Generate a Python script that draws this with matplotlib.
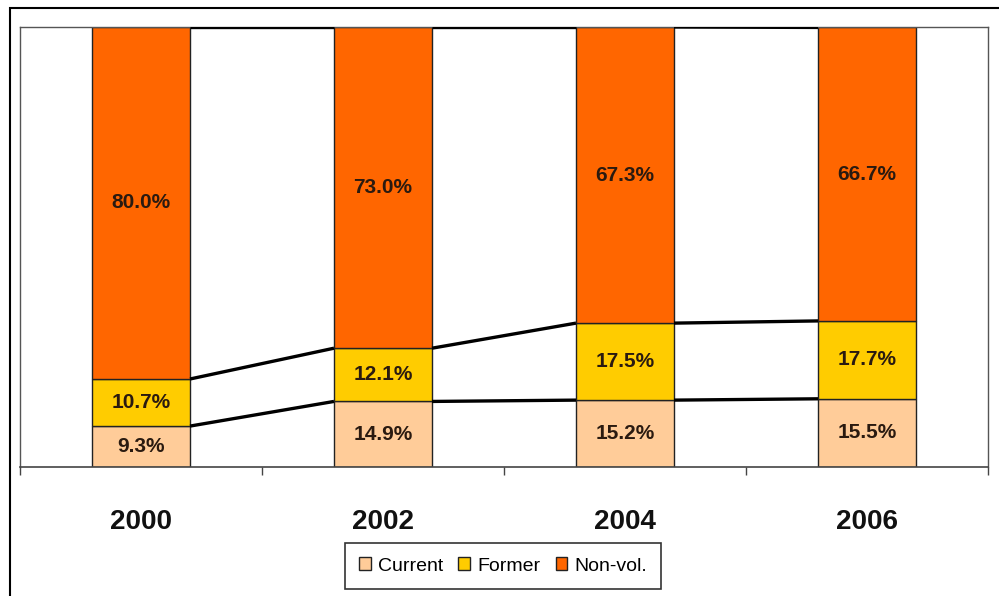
import numpy as np
import matplotlib.pyplot as plt
from matplotlib.patches import Rectangle

years = ['2000', '2002', '2004', '2006']
current = [9.3, 14.9, 15.2, 15.5]
former = [10.7, 12.1, 17.5, 17.7]
nonvol = [80.0, 73.0, 67.3, 66.7]

series = [('Current', current, '#FFCC99'),
          ('Former', former, '#FFCC00'),
          ('Non-vol.', nonvol, '#FF6600')]

plt.rcParams['font.family'] = ['Liberation Sans Narrow', 'Liberation Sans', 'DejaVu Sans']

fig = plt.figure(figsize=(9.99, 5.96), dpi=100)
# outer frame of the picture
fig.patches.append(Rectangle((10 / 999, -0.01), 1.0, 1 - 8 / 596 + 0.01,
                             transform=fig.transFigure, fill=False,
                             edgecolor='black', linewidth=1.5))

ax = fig.add_axes([20 / 999, 1 - 467 / 596, 968 / 999, 440 / 596])
x = np.arange(len(years))
w = 0.405
bottom = np.zeros(len(years))
handles = []
for name, vals, color in series:
    vals = np.array(vals)
    b = ax.bar(x, vals, w, bottom=bottom, color=color, edgecolor='#222222',
               linewidth=1.0, label=name, zorder=2)
    handles.append(b)
    for xi, v, b0 in zip(x, vals, bottom):
        ax.text(xi, b0 + v / 2, f'{v:.1f}%', ha='center', va='center',
                fontsize=15, fontweight='bold', color='#2a1a10', zorder=4)
    bottom = bottom + vals
    # series lines between bars
    for i in range(len(years) - 1):
        ax.plot([x[i] + w / 2, x[i + 1] - w / 2], [bottom[i], bottom[i + 1]],
                color='black', linewidth=2.4, zorder=3, solid_capstyle='butt')

ax.set_xlim(-0.5, len(years) - 0.5)
ax.set_ylim(0, 100)
ax.set_yticks([])
ax.set_xticks(np.arange(len(years) + 1) - 0.5)
ax.set_xticklabels([])
ax.tick_params(axis='x', direction='out', length=6, width=1, color='#444444')
for s in ['left', 'top', 'right']:
    ax.spines[s].set_color('#555555')
    ax.spines[s].set_linewidth(1.0)
ax.spines['bottom'].set_color('#444444')
ax.spines['bottom'].set_linewidth(1.2)

for xi, yr in zip(x, years):
    ax.text(xi, -12.5, yr, ha='center', va='center', fontsize=20,
            fontweight='bold', color='#111111', clip_on=False)

leg = fig.legend(handles=handles, loc='center', bbox_to_anchor=(503 / 999, 1 - 566 / 596),
                 ncol=3, frameon=True, fancybox=False, fontsize=14,
                 handlelength=0.6, handleheight=0.6, handletextpad=0.35,
                 columnspacing=0.8, borderpad=0.75, edgecolor='black')
leg.get_frame().set_linewidth(1.2)

fig.savefig('out.png', dpi=100)
